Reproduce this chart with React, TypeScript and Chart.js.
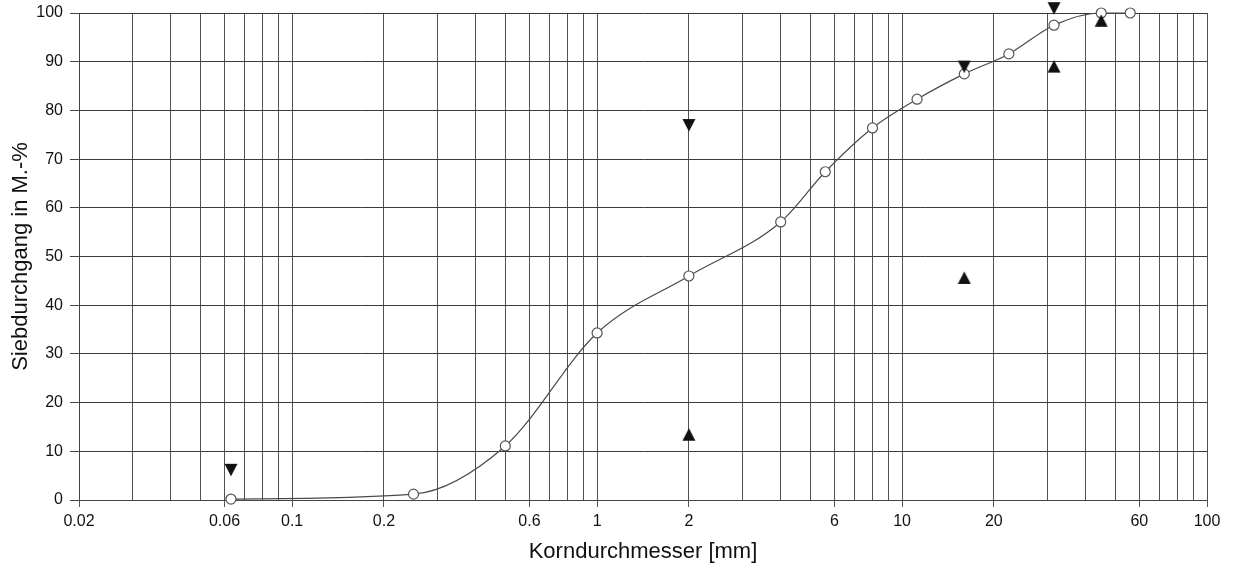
import React, { useEffect, useRef } from "react";
import { Chart, registerables } from "chart.js";

Chart.register(...registerables);

// Sieve sizes [mm] and passing [M.-%]
const sieveSizes = [0.063, 0.25, 0.5, 1, 2, 4, 5.6, 8, 11.2, 16, 22.4, 31.5, 45, 56];
const passing = [0.2, 1.2, 11.1, 34.3, 46.0, 57.1, 67.4, 76.4, 82.3, 87.5, 91.6, 97.5, 100, 100];

// Upper limits (downward triangles)
const upperSizes = [0.063, 2, 16, 31.5];
const upperLimits = [6.2, 77, 89, 101];

// Lower limits (upward triangles)
const lowerSizes = [2, 16, 31.5, 45];
const lowerLimits = [13.4, 45.6, 89, 98.4];

// Axis ticks
const xTickLabels = [0.02, 0.06, 0.1, 0.2, 0.6, 1, 2, 6, 10, 20, 60, 100];
const xGridMantissas = [1, 2, 3, 4, 5, 6, 7, 8, 9];
const xGridDecades = [0.01, 0.1, 1, 10, 100];
const xMin = 0.02;
const xMax = 100;
const yMin = 0;
const yMax = 100;
const yStep = 10;

const FONT = "'Liberation Sans', Arial, Helvetica, sans-serif";

function isLabeled(v: number) {
  return xTickLabels.some((l) => Math.abs(l - v) / l < 1e-6);
}

function makeTriangle(down: boolean): HTMLCanvasElement {
  const c = document.createElement("canvas");
  c.width = 14;
  c.height = 14;
  const g = c.getContext("2d")!;
  g.fillStyle = "#111";
  g.beginPath();
  if (down) {
    g.moveTo(0.5, 1);
    g.lineTo(13.5, 1);
    g.lineTo(7, 13.5);
  } else {
    g.moveTo(7, 0.5);
    g.lineTo(13.5, 13);
    g.lineTo(0.5, 13);
  }
  g.closePath();
  g.fill();
  return c;
}

export default function App() {
  const ref = useRef<HTMLCanvasElement | null>(null);

  useEffect(() => {
    if (!ref.current) return;
    const gridValues: number[] = [];
    xGridDecades.forEach((d) => {
      xGridMantissas.forEach((m) => {
        const v = Number((m * d).toPrecision(6));
        if (v >= xMin - 1e-9 && v <= xMax + 1e-9) gridValues.push(v);
      });
    });

    const downTri = makeTriangle(true);
    const upTri = makeTriangle(false);

    const chart = new Chart(ref.current, {
      type: "scatter",
      data: {
        datasets: [
          {
            label: "Siebdurchgang",
            data: sieveSizes.map((x, i) => ({ x, y: passing[i] })),
            showLine: true,
            borderColor: "#4a4a4a",
            borderWidth: 1.2,
            cubicInterpolationMode: "monotone",
            pointStyle: "circle",
            pointRadius: 5,
            pointBackgroundColor: "#ffffff",
            pointBorderColor: "#555555",
            pointBorderWidth: 1.2,
            clip: false,
            order: 2,
          } as any,
          {
            label: "Obergrenze",
            data: upperSizes.map((x, i) => ({ x, y: upperLimits[i] })),
            showLine: false,
            pointStyle: downTri,
            pointRadius: 7,
            clip: false,
            order: 1,
          } as any,
          {
            label: "Untergrenze",
            data: lowerSizes.map((x, i) => ({ x, y: lowerLimits[i] })),
            showLine: false,
            pointStyle: upTri,
            pointRadius: 7,
            clip: false,
            order: 1,
          } as any,
        ],
      },
      options: {
        responsive: false,
        animation: false,
        events: [],
        layout: { autoPadding: false, padding: { top: 13, right: 27, left: 0, bottom: 0 } },
        plugins: {
          legend: { display: false },
          tooltip: { enabled: false },
        },
        scales: {
          x: {
            type: "logarithmic",
            min: xMin,
            max: xMax,
            afterBuildTicks: (scale: any) => {
              scale.ticks = gridValues.map((v) => ({ value: v }));
            },
            afterFit: (scale: any) => {
              scale.height = 67;
              scale.paddingLeft = 0;
              scale.paddingRight = 0;
            },
            ticks: {
              autoSkip: false,
              maxRotation: 0,
              minRotation: 0,
              padding: 5,
              color: "#111",
              font: { family: FONT, size: 16 },
              callback: (value: any) => (isLabeled(Number(value)) ? String(Number(value)) : ""),
            },
            grid: {
              color: "#505050",
              lineWidth: 1,
              tickLength: 7,
              tickColor: (ctx: any) => (ctx.tick && isLabeled(ctx.tick.value) ? "#555" : "rgba(0,0,0,0)"),
            },
            border: { display: true, color: "#444", width: 1 },
            title: {
              display: true,
              text: "Korndurchmesser [mm]",
              color: "#111",
              font: { family: FONT, size: 22 },
              padding: { top: 0, bottom: 2 },
            },
          } as any,
          y: {
            type: "linear",
            min: yMin,
            max: yMax,
            afterFit: (scale: any) => {
              scale.width = 79;
              scale.paddingTop = 0;
              scale.paddingBottom = 0;
            },
            ticks: {
              stepSize: yStep,
              padding: 7,
              color: "#111",
              font: { family: FONT, size: 16 },
            },
            grid: {
              color: "#3a3a3a",
              lineWidth: 1,
              tickLength: 9,
              tickColor: "#444",
            },
            border: { display: true, color: "#444", width: 1 },
            title: {
              display: true,
              text: "Siebdurchgang in M.-%",
              color: "#111",
              font: { family: FONT, size: 22 },
              padding: { top: 8, bottom: 0 },
            },
          } as any,
        },
      },
    });
    return () => chart.destroy();
  }, []);

  return (
    <div style={{ position: "fixed", left: 0, top: 0, width: 1234, height: 567, background: "#fff" }}>
      <canvas ref={ref} width={1234} height={567} style={{ width: 1234, height: 567, display: "block" }} />
    </div>
  );
}
